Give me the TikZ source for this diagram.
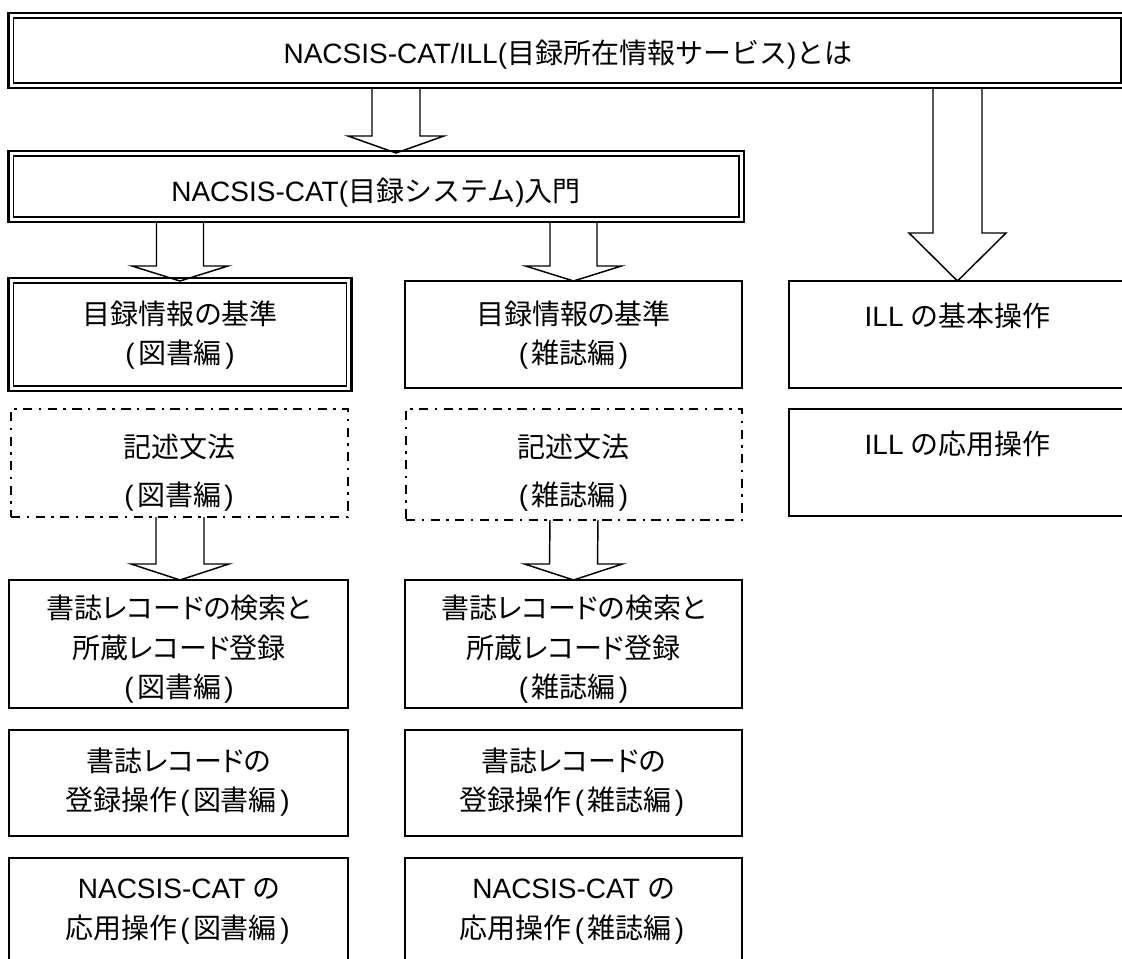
\documentclass[tikz,border=0pt]{standalone}
\usepackage{fontspec}
\setmainfont{Liberation Sans}
\newfontfamily\jp{Noto Sans CJK JP}[RawFeature=+palt]
\newfontfamily\jpf{Noto Sans CJK JP}
\usetikzlibrary{fit,calc}
\newcommand\J[1]{{\jp #1}}
\newcommand\JF[1]{{\jpf #1}}
\newcommand\pb[1]{\kern2.5pt(\kern2.5pt\J{#1}\kern2.5pt)\kern2.5pt}
\newcommand\hollowarrow[5]{% from, tip, shaft half, head half, head length
  \draw[harrow] ($(#1)+(-#3,0)$) -- ($(#2)+(-#3,-#5)$) -- ($(#2)+(-#4,-#5)$) -- (#2)
    -- ($(#2)+(#4,-#5)$) -- ($(#2)+(#3,-#5)$) -- ($(#1)+(#3,0)$);}
\begin{document}
\begin{tikzpicture}[x=0.75pt,y=-0.75pt,
  sbox/.style={draw, line width=1.1pt, inner sep=0pt, outer sep=0pt},
  obox/.style={draw, line width=2.1pt, inner sep=0pt, outer sep=0pt},
  ibox/.style={line width=1.1pt},
  dbox/.style={draw, line width=2.1pt, inner sep=0pt, outer sep=0pt,
     dash pattern=on 7pt off 4.8pt on 1.8pt off 4.8pt},
  harrow/.style={line width=1.1pt, line join=miter},
  txt/.style={anchor=base, inner sep=0pt, font=\fontsize{21}{25}\selectfont},
  ttxt/.style={anchor=base, inner sep=0pt, font=\fontsize{21}{25}\selectfont}]
\clip (0,0) rectangle (1122,959);
\fill[white] (0,0) rectangle (1122,959);

% boxes
\node[obox, fit={(8.5,13) (1126,88)}] (top) {};
\draw[ibox] ($(top.north west)+(5,5)$) rectangle ($(top.south east)+(-5,-5)$);
\node[obox, fit={(8.5,151) (744,222)}] (cat) {};
\draw[ibox] ($(cat.north west)+(5,5)$) rectangle ($(cat.south east)+(-5,-5)$);
\node[obox, fit={(8.5,278) (351.5,391)}] (b1) {};
\draw[ibox] ($(b1.north west)+(5,5)$) rectangle ($(b1.south east)+(-5,-5)$);
\node[sbox, fit={(405,281) (742,388)}] (m1) {};
\node[sbox, fit={(789,281) (1126,388)}] (i1) {};
\node[sbox, fit={(789,409) (1126,516)}] (i2) {};
\node[dbox, fit={(11,409) (348,517)}] (b2) {};
\node[dbox, fit={(406,409) (742,520)}] (m2) {};
\node[sbox, fit={(9,580) (348,708)}] (b3) {};
\node[sbox, fit={(405,580) (742,708)}] (m3) {};
\node[sbox, fit={(9,730) (348,836)}] (b4) {};
\node[sbox, fit={(405,730) (742,836)}] (m4) {};
\node[sbox, fit={(9,858) (348,975)}] (b5) {};
\node[sbox, fit={(405,858) (742,975)}] (m5) {};

% arrows
\coordinate (ax0) at (396,0);
\coordinate (a0s) at (top.south -| ax0);
\coordinate (a0t) at ($(cat.north -| ax0)+(0,2)$);
\hollowarrow{a0s}{a0t}{24}{48}{17}
\coordinate (ais) at (top.south -| i1.north);
\hollowarrow{ais}{i1.north}{24.5}{48.5}{48}
\coordinate (a1s) at (cat.south -| b1.north);
\coordinate (a1t) at ($(b1.north)+(0,3)$);
\hollowarrow{a1s}{a1t}{23.5}{48}{15}
\coordinate (a2s) at (cat.south -| m1.north);
\hollowarrow{a2s}{m1.north}{23.5}{48}{15}
\coordinate (a3s) at (b2.south -| b1.north);
\coordinate (a3t) at (b3.north -| b1.north);
\hollowarrow{a3s}{a3t}{24}{49}{16}
\hollowarrow{m2.south}{m3.north}{24}{49}{16}

% texts
\node[ttxt] (t0) at (568,64) {NACSIS-CAT/ILL(\JF{目録所在情報サービス})\JF{とは}};
\node[txt] (tc) at (376,202) {NACSIS-CAT(\JF{目録システム})\JF{入門}};
\node[txt] (tb1a) at (180,324.5) {\J{目録情報の基準}};
\node[txt] (tb1b) at (180,363.5) {\pb{図書編}};
\node[txt] (tm1a) at (573.5,324.5) {\J{目録情報の基準}};
\node[txt] (tm1b) at (573.5,363.5) {\pb{雑誌編}};
\node[txt] (ti1) at (957.5,326.5) {ILL \J{の基本操作}};
\node[txt] (ti2) at (957.5,454.5) {ILL \J{の応用操作}};
\node[txt] (tb2a) at (179,457.5) {\J{記述文法}};
\node[txt] (tb2b) at (179,505.5) {\pb{図書編}};
\node[txt] (tm2a) at (573.5,457.5) {\J{記述文法}};
\node[txt] (tm2b) at (573.5,505.5) {\pb{雑誌編}};
\node[txt] (tb3a) at (179,618.5) {\J{書誌レコードの検索と}};
\node[txt] (tb3b) at (179,658.5) {\J{所蔵レコード登録}};
\node[txt] (tb3c) at (179,697.5) {\pb{図書編}};
\node[txt] (tm3a) at (573.5,618.5) {\J{書誌レコードの検索と}};
\node[txt] (tm3b) at (573.5,658.5) {\J{所蔵レコード登録}};
\node[txt] (tm3c) at (573.5,697.5) {\pb{雑誌編}};
\node[txt] (tb4a) at (179,771.5) {\J{書誌レコードの}};
\node[txt] (tb4b) at (179,810.5) {\J{登録操作}\pb{図書編}};
\node[txt] (tm4a) at (573.5,771.5) {\J{書誌レコードの}};
\node[txt] (tm4b) at (573.5,810.5) {\J{登録操作}\pb{雑誌編}};
\node[txt] (tb5a) at (179,898.5) {NACSIS-CAT \J{の}};
\node[txt] (tb5b) at (179,938.5) {\J{応用操作}\pb{図書編}};
\node[txt] (tm5a) at (573.5,898.5) {NACSIS-CAT \J{の}};
\node[txt] (tm5b) at (573.5,938.5) {\J{応用操作}\pb{雑誌編}};
\end{tikzpicture}
\end{document}
